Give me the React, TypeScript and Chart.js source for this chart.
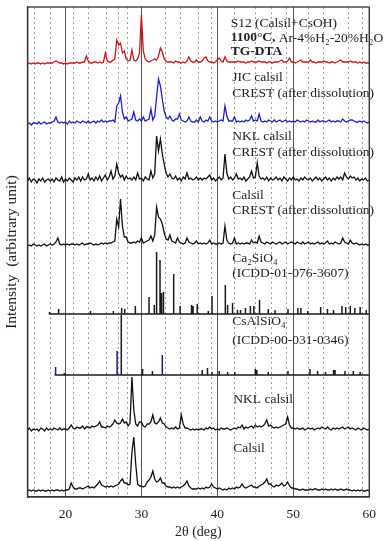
import React, { useEffect, useRef } from "react";
import { Chart, registerables } from "chart.js";
Chart.register(...registerables);

// ---- axis / reference info ----
const xTicks = [20, 30, 40, 50, 60];
const refLines = [15.8, 18.0, 20.95, 23.0, 25.3, 26.9, 28.1, 33.1, 35.05, 37.4, 39.1, 42.2, 45.0, 47.1, 49.0, 52.0, 53.9, 57.2, 59.0];

// scan grid: 15° .. 60°, 0.25° step (4 values per degree)
const scanStart = 15;
const scanStep = 0.25;

// ---- measured patterns (intensity above own baseline) ----
const s12 = [
  1,2,1,2, 1,2,2,1, 2,1,2,2, 2,2,3,4, 3,2,2,1,
  2,1,2,2, 2,2,3,2, 2,3,3,9, 4,2,2,3, 3,2,3,2,
  3,12,4,3, 3,5,6,25, 20,22,12,14, 6,4,5,15, 5,4,6,12,
  50,14,6,4, 3,4,5,6, 5,9,17,13, 6,4,3,3, 3,2,4,3,
  3,2,3,2, 4,8,4,3, 3,5,3,3, 4,7,8,4, 3,3,2,3,
  5,7,4,3, 8,4,3,3, 3,3,3,4, 3,3,3,2, 3,3,4,3,
  3,3,4,3, 3,3,2,3, 3,2,3,3, 3,4,5,3, 3,4,7,3,
  3,2,3,4, 5,3,3,3, 3,5,3,3, 2,3,3,3, 4,3,3,2,
  3,3,2,3, 4,5,3,3, 3,3,4,3, 3,3,2,3, 2,3,2,2,
  2,
];
const jicCalsil = [
  1,2,0,2, 2,1,3,1, 2,3,1,2, 2,3,4,8, 3,2,3,2,
  3,1,4,2, 3,2,4,3, 2,4,3,2, 4,2,3,4, 2,4,3,5,
  3,4,3,4, 4,5,3,19, 22,29,13,6, 8,4,5,6, 13,5,4,6,
  4,8,4,5, 6,16,5,9, 28,46,39,26, 14,8,6,9, 5,4,6,6,
  11,5,4,3, 4,8,4,3, 3,5,3,8, 4,3,5,4, 8,4,3,4,
  3,4,5,4, 19,9,4,4, 4,8,3,4, 3,4,3,5, 4,5,9,4,
  5,4,11,4, 3,4,3,5, 4,3,5,3, 4,5,3,4, 5,3,4,3,
  4,3,5,4, 3,4,3,5, 4,3,4,3, 3,5,3,4, 4,3,4,5,
  3,4,3,4, 4,3,6,4, 3,4,5,5, 4,3,3,4, 3,4,3,2,
  3,
];
const nklCrest = [
  2,5,1,4, 3,0,4,2, 5,1,3,4, 2,4,1,5, 3,2,6,1,
  4,2,5,3, 1,5,3,6, 2,6,3,4, 9,3,5,2, 6,3,7,2,
  5,8,3,6, 12,4,7,19, 10,6,8,3, 7,4,5,3, 6,3,10,4,
  5,2,6,4, 3,12,5,9, 47,32,44,29, 19,10,6,9, 5,4,7,3,
  5,2,6,4, 10,4,5,3, 4,6,3,5, 3,5,4,6, 8,3,5,2,
  4,6,3,5, 29,10,4,6, 3,5,9,4, 5,3,6,2, 4,6,12,5,
  6,20,7,4, 5,3,6,2, 5,3,4,6, 3,5,2,6, 4,2,5,3,
  6,3,4,2, 5,3,6,4, 3,5,2,4, 6,3,5,2, 4,6,3,5,
  2,5,3,6, 4,6,3,10, 6,4,7,5, 6,3,5,2, 4,3,5,2,
  3,
];
const calsilCrest = [
  1,2,1,3, 2,1,2,1, 2,3,1,2, 3,2,3,5, 9,3,2,3,
  2,3,2,3, 3,2,3,2, 3,4,2,3, 3,4,3,2, 3,2,3,4,
  3,4,3,4, 4,5,6,28, 20,48,21,10, 10,5,4,4, 5,4,6,5,
  9,4,5,6, 7,11,6,12, 40,30,28,23, 14,8,7,12, 6,5,4,9,
  5,4,3,4, 9,5,4,3, 4,6,3,4, 3,4,3,4, 7,3,4,3,
  3,4,3,4, 21,7,4,3, 4,9,3,4, 3,4,3,4, 4,3,7,4,
  5,4,11,5, 4,3,5,4, 3,5,4,3, 4,5,3,4, 5,3,4,5,
  4,3,5,4, 3,5,3,4, 5,3,4,3, 4,5,3,4, 3,4,6,3,
  4,3,5,4, 3,4,9,5, 4,3,7,4, 3,4,3,2, 3,2,3,2,
  2,
];
const nklCalsil = [
  2,4,1,3, 2,3,1,4, 3,1,4,2, 3,2,4,3, 2,4,2,3,
  3,2,4,7, 4,3,5,4, 4,6,3,5, 5,4,6,5, 6,7,10,5,
  5,4,6,5, 6,8,12,9, 8,9,13,9, 10,6,9,55, 22,8,6,10,
  10,6,5,8, 8,10,17,9, 8,10,14,9, 8,5,4,3, 4,3,5,3,
  4,17,8,4, 4,3,2,3, 2,3,2,3, 3,2,4,3, 5,3,4,2,
  3,2,4,3, 3,4,3,2, 3,4,3,5, 4,7,3,5, 4,5,6,4,
  7,5,6,5, 6,8,12,6, 7,5,4,5, 4,5,6,7, 8,15,7,4,
  4,3,4,3, 3,4,2,3, 4,3,4,2, 3,4,3,5, 4,3,5,3,
  2,4,3,4, 3,4,5,3, 4,5,3,4, 3,2,4,3, 2,4,3,2,
  3,
];
const calsil = [
  1,2,1,2, 1,1,2,1, 2,1,1,2, 1,2,1,2, 2,1,2,1,
  2,2,3,9, 5,3,3,4, 4,3,4,5, 6,4,5,4, 6,8,11,7,
  6,5,6,5, 6,5,6,7, 8,11,13,9, 9,7,8,40, 55,28,8,6,
  6,5,6,10, 12,15,21,13, 10,11,14,9, 9,6,5,5, 4,5,4,5,
  4,5,6,8, 11,6,4,3, 3,3,4,3, 4,3,5,4, 5,8,5,4,
  3,4,3,2, 3,2,4,3, 4,3,5,4, 5,8,5,4, 5,6,7,5,
  5,4,6,7, 8,10,13,8, 8,6,5,7, 6,7,9,6, 7,10,6,4,
  4,3,3,2, 2,3,2,2, 2,3,2,3, 3,2,2,3, 2,3,2,2,
  3,2,3,2, 2,3,2,2, 3,2,2,1, 2,1,2,1, 2,1,1,2,
  1,
];

// ---- reference stick patterns ----
const ca2sio4Pos = [17.9, 19.1, 23.3, 26.3, 27.4, 27.8, 29.2, 31.0, 31.7, 32.0, 32.45, 32.65, 32.9, 34.25, 35.1, 36.6, 36.8, 37.35, 38.8, 39.3, 41.05, 41.35, 42.0, 42.65, 43.05, 43.7, 44.35, 44.8, 45.55, 46.7, 47.6, 49.3, 50.6, 51.0, 51.9, 53.6, 54.5, 55.3, 56.4, 56.9, 57.5, 58.1, 58.8, 59.6];
const ca2sio4Int = [2, 5, 3, 3, 6, 5, 8, 17, 9, 62, 54, 21, 22, 40, 8, 9, 8, 10, 3, 18, 29, 9, 11, 4, 4, 6, 8, 8, 14, 5, 4, 5, 6, 6, 3, 7, 5, 4, 8, 7, 8, 6, 7, 4];
const csalsio4Pos = [18.7, 19.85, 26.8, 27.35, 30.15, 31.45, 32.75, 38.0, 38.7, 39.3, 40.25, 41.35, 42.3, 45.0, 45.2, 46.7, 49.3, 52.2, 53.2, 54.25, 55.3, 55.5, 56.8, 57.9, 58.8];
const csalsio4Int = [8, 2, 24, 60, 6, 4, 20, 5, 7, 3, 4, 3, 3, 6, 5, 3, 4, 6, 4, 3, 5, 5, 4, 4, 3];
const csalsio4Navy = [18.7, 26.8, 32.75];

// ---- stacking offsets (same units as intensities) ----
const offS12 = 432, offJic = 372, offNklCrest = 314, offCalsilCrest = 250;
const offCa2 = 183, offCsAl = 122, offNklCalsil = 65, offCalsil = 5;
const startCa2 = 17.8, startCsAl = 18.55;

const SERIF = '"Liberation Serif", "DejaVu Serif", serif';

type Part = { t: string; b?: boolean };
const annotations: { parts: Part[]; x: number; y: number }[] = [
  { parts: [{ t: "S12 (Calsil+CsOH)" }], x: 41.75, y: 474 },
  { parts: [{ t: "1100°C,", b: true }, { t: " Ar-4%H₂-20%H₂O" }], x: 41.75, y: 459 },
  { parts: [{ t: "TG-DTA", b: true }], x: 41.75, y: 445 },
  { parts: [{ t: "JIC calsil" }], x: 41.95, y: 420 },
  { parts: [{ t: "CREST (after dissolution)" }], x: 41.95, y: 404 },
  { parts: [{ t: "NKL calsil" }], x: 41.95, y: 361 },
  { parts: [{ t: "CREST (after dissolution)" }], x: 41.95, y: 345 },
  { parts: [{ t: "Calsil" }], x: 41.95, y: 302 },
  { parts: [{ t: "CREST (after dissolution)" }], x: 41.95, y: 287 },
  { parts: [{ t: "Ca₂SiO₄" }], x: 41.95, y: 239 },
  { parts: [{ t: "(ICDD-01-076-3607)" }], x: 41.95, y: 224 },
  { parts: [{ t: "CsAlSiO₄" }], x: 41.95, y: 176 },
  { parts: [{ t: "(ICDD-00-031-0346)" }], x: 41.95, y: 157 },
  { parts: [{ t: "NKL calsil" }], x: 42.1, y: 98 },
  { parts: [{ t: "Calsil" }], x: 42.1, y: 49 },
];

function trace(vals: number[], off: number) {
  return vals.map((v, i) => ({ x: scanStart + i * scanStep, y: off + v }));
}
function sticks(pos: number[], ints: number[], base: number, start: number) {
  const pts: { x: number; y: number }[] = [{ x: start, y: base }];
  pos.forEach((p, i) => {
    pts.push({ x: p, y: base }, { x: p, y: base + ints[i] }, { x: p, y: base });
  });
  pts.push({ x: 60, y: base });
  return pts;
}

const decoPlugin = {
  id: "deco",
  beforeDatasetsDraw(chart: any) {
    const { ctx, chartArea, scales } = chart;
    ctx.save();
    ctx.strokeStyle = "#a0a0a0";
    ctx.lineWidth = 1;
    ctx.setLineDash([2, 3]);
    refLines.forEach((v) => {
      const px = Math.round(scales.x.getPixelForValue(v)) + 0.5;
      ctx.beginPath();
      ctx.moveTo(px, chartArea.top);
      ctx.lineTo(px, chartArea.bottom);
      ctx.stroke();
    });
    ctx.restore();
  },
  afterDatasetsDraw(chart: any) {
    const { ctx, chartArea, scales } = chart;
    ctx.save();
    ctx.fillStyle = "#222";
    ctx.textBaseline = "middle";
    ctx.textAlign = "left";
    annotations.forEach((a) => {
      let px = scales.x.getPixelForValue(a.x);
      const py = scales.y.getPixelForValue(a.y);
      a.parts.forEach((p) => {
        ctx.font = `${p.b ? "bold " : ""}13.5px ${SERIF}`;
        ctx.fillText(p.t, px, py);
        px += ctx.measureText(p.t).width;
      });
    });
    ctx.strokeStyle = "#333";
    ctx.lineWidth = 1.3;
    ctx.strokeRect(chartArea.left, chartArea.top, chartArea.right - chartArea.left, chartArea.bottom - chartArea.top);
    ctx.restore();
  },
};

export default function App() {
  const ref = useRef<HTMLCanvasElement | null>(null);
  useEffect(() => {
    if (!ref.current) return;
    const navySet = new Set(csalsio4Navy);
    const csData = sticks(csalsio4Pos, csalsio4Int, offCsAl, startCsAl);
    const line = (data: any, color: string, width = 1.3) => ({
      type: "line" as const,
      data,
      borderColor: color,
      borderWidth: width,
      pointRadius: 0,
      tension: 0,
      fill: false,
    });
    const chart = new Chart(ref.current, {
      type: "line",
      data: {
        datasets: [
          line(trace(s12, offS12), "#cc1414"),
          line(trace(jicCalsil, offJic), "#1f1fc8"),
          line(trace(nklCrest, offNklCrest), "#111"),
          line(trace(calsilCrest, offCalsilCrest), "#111"),
          line(sticks(ca2sio4Pos, ca2sio4Int, offCa2, startCa2), "#1a1a1a", 1.5),
          {
            ...line(csData, "#1a1a1a", 1.5),
            segment: {
              borderColor: (c: any) => {
                const a = csData[c.p0DataIndex];
                const b = csData[c.p1DataIndex];
                return a && b && a.x === b.x && navySet.has(a.x) ? "#1c1c7a" : undefined;
              },
            },
          },
          line(trace(nklCalsil, offNklCalsil), "#111"),
          line(trace(calsil, offCalsil), "#111"),
        ],
      },
      options: {
        responsive: false,
        animation: false,
        devicePixelRatio: 1,
        parsing: false as any,
        layout: { padding: { left: 0, right: 9, top: 7, bottom: 0 } },
        plugins: { legend: { display: false }, tooltip: { enabled: false } },
        scales: {
          x: {
            type: "linear",
            min: 15,
            max: 60,
            afterBuildTicks: (axis: any) => {
              axis.ticks = xTicks.map((v) => ({ value: v }));
            },
            afterFit: (s: any) => {
              s.height = 44;
            },
            grid: { color: "#555", lineWidth: 1, drawTicks: false },
            border: { display: true, color: "#333", width: 1.3 },
            ticks: { font: { family: SERIF, size: 13.5 }, color: "#222", padding: 9 },
            title: { display: true, text: "2θ (deg)", font: { family: SERIF, size: 14 }, color: "#222", padding: { top: 0, bottom: 0 } },
          },
          y: {
            type: "linear",
            min: 0,
            max: 490,
            afterFit: (s: any) => {
              s.width = 27.5;
            },
            grid: { display: false },
            border: { display: true, color: "#333", width: 1.3 },
            ticks: { display: false },
            title: { display: true, text: "Intensity  (arbitrary unit)", font: { family: SERIF, size: 15.5 }, color: "#222", padding: { top: 3, bottom: 0 } },
          },
        },
      },
      plugins: [decoPlugin],
    } as any);
    return () => chart.destroy();
  }, []);
  return (
    <div style={{ position: "absolute", left: 0, top: 0, width: 385, height: 541, background: "#fff" }}>
      <canvas ref={ref} width={385} height={541} style={{ display: "block", width: 385, height: 541 }} />
    </div>
  );
}
